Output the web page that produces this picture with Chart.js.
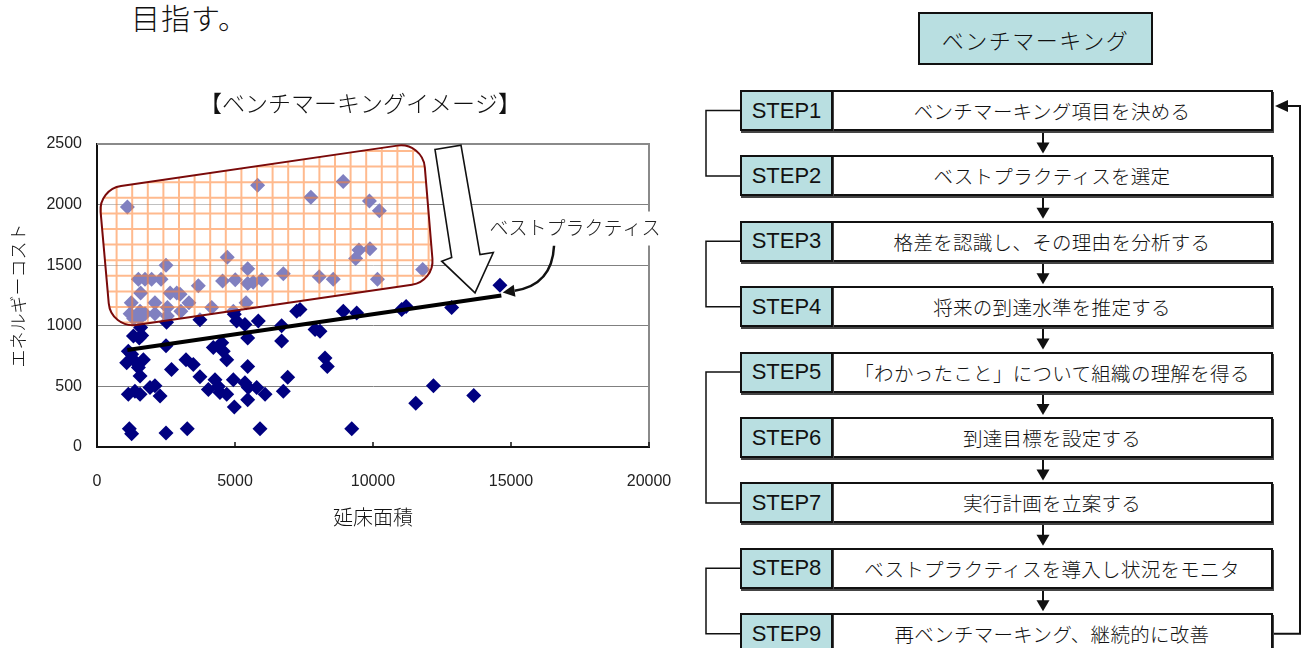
<!DOCTYPE html>
<html lang="ja">
<head>
<meta charset="utf-8">
<script src="https://cdn.jsdelivr.net/npm/chart.js@4.4.1/dist/chart.umd.min.js"></script>
<style>
  html, body { margin: 0; padding: 0; background: #fff; }
  body { width: 1304px; height: 648px; position: relative; overflow: hidden;
         font-family: "Noto Sans CJK JP", "Noto Sans", sans-serif; font-weight: 300; color: #111; }
  #lead { position: absolute; left: 131px; top: -1px; font-size: 29px; line-height: 36px; font-weight: 300; letter-spacing: 1px; }
  #chartBox { position: absolute; left: 0; top: 80px; width: 720px; height: 470px; }
  #flowLines { position: absolute; left: 0; top: 0; }
  .fbox { position: absolute; box-sizing: border-box; border: 2px solid #111;
          display: flex; align-items: center; justify-content: center; white-space: nowrap; }
  .head { background: #b9dfe1; font-size: 22px; letter-spacing: 1.5px; }
  .step { background: #b9dfe1; font-family: "Liberation Sans", Arial, sans-serif; font-weight: 400;
          font-size: 22px; box-shadow: 1px 2px 0 #444; }
  .task { background: #fff; font-size: 19.5px; letter-spacing: 0.3px; box-shadow: 1px 2px 0 #444; }
</style>
</head>
<body>
<div id="lead">目指す。</div>
<svg id="flowLines" width="1304" height="648"></svg>
<div id="flow"></div>
<div id="chartBox"><canvas id="bench" width="720" height="470"></canvas></div>

<script>
// ---- scatter data: floor area (m2) vs. energy cost ----
const floorArea = [
  1100, 5820, 7750, 8920, 9870, 10230, 2500, 4720, 9490, 9370, 9890, 10160,
  1500, 1740, 1980, 2320, 1580, 1240, 1200, 1560, 1560, 2100, 2100, 2550,
  2550, 2650, 2890, 3010, 3330, 3040, 3670, 4155, 4550, 5010, 5460, 5460,
  5660, 5970, 5400, 4940, 6750, 8050, 8560, 11800, 1740, 1330,
  1320, 1530, 1620, 1580, 1135, 1255, 1075, 1320, 1680, 1500, 1560, 2500,
  2700, 3225, 3490, 3730, 4215, 4520, 4575, 4700, 4940, 5460, 4975, 5060,
  5360, 5845, 5460, 6690, 6690, 7235, 7355, 7900, 8080, 8260, 8345, 8925,
  9410, 1135, 1375, 1560, 1920, 2100, 2285, 4035, 4275, 4395, 4455, 4700,
  4975, 5360, 5480, 5785, 6090, 5460, 6750, 6910, 1170, 1255, 2500, 3270,
  5905, 9230, 3730, 2520, 14600, 11040, 11200, 12850, 11550, 12190, 13650
];
const energyCost = [
  1980, 2160, 2060, 2190, 2030, 1950, 1500, 1565, 1625, 1555, 1635, 1385,
  1385, 1385, 1385, 1385, 1270, 1190, 1100, 1120, 1065, 1190, 1100, 1150,
  1080, 1270, 1270, 1260, 1190, 1120, 1330, 1150, 1370, 1380, 1470, 1350,
  1360, 1380, 1190, 1120, 1430, 1405, 1385, 1465, 1100, 1060,
  915, 900, 920, 985, 790, 765, 695, 720, 720, 655, 585, 835,
  640, 720, 680, 580, 820, 860, 790, 720, 555, 665, 1095, 1040,
  1010, 1040, 900, 1000, 875, 1120, 1135, 970, 955, 735, 665, 1120,
  1105, 435, 460, 435, 490, 505, 420, 475, 555, 500, 450, 435,
  330, 530, 490, 490, 435, 390, 460, 575, 150, 110, 115, 150,
  150, 150, 1050, 1030, 1335, 1135, 1160, 1150, 360, 505, 425
];

// best-practice line (lower envelope)
const bestLineArea = [1100, 14650];
const bestLineCost = [800, 1250];

// axis ticks
const xTickValues = [0, 5000, 10000, 15000, 20000];
const yTickValues = [0, 500, 1000, 1500, 2000, 2500];

// annotation geometry, in data units
const topRangeCorners = [[58, 2126], [11801, 2517], [12221, 1366], [507, 977]];
const bigArrowOutline = [[12246, 2455], [13188, 2490], [13877, 1588], [14359, 1605],
                         [13696, 1272], [12489, 1533], [12851, 1564]];
const calloutText = 'ベストプラクティス';
const calloutAnchor = [17320, 1811];
const calloutCurve = { from: [16560, 1660], ctrl: [16490, 1335], to: [14700, 1275] };

// ---- flow chart content ----
const stepNames = ['STEP1', 'STEP2', 'STEP3', 'STEP4', 'STEP5', 'STEP6', 'STEP7', 'STEP8', 'STEP9'];
const stepTasks = [
  'ベンチマーキング項目を決める',
  'ベストプラクティスを選定',
  '格差を認識し、その理由を分析する',
  '将来の到達水準を推定する',
  '「わかったこと」について組織の理解を得る',
  '到達目標を設定する',
  '実行計画を立案する',
  'ベストプラクティスを導入し状況をモニタ',
  '再ベンチマーキング、継続的に改善'
];
const stepGroups = [[0, 1], [2, 3], [4, 6], [7, 8]];
const flowTitle = 'ベンチマーキング';

// ---------------- flow chart drawing ----------------
(function drawFlow() {
  const flow = document.getElementById('flow');
  const svg = document.getElementById('flowLines');
  const rowTop = i => 90 + i * 65.4;
  const rowH = 41, labL = 740, labR = 831, mainR = 1273, arrowX = 1043;

  const head = document.createElement('div');
  head.className = 'fbox head';
  Object.assign(head.style, { left: '918px', top: '12px', width: '235px', height: '53px' });
  head.textContent = flowTitle;
  flow.appendChild(head);

  let s = '';
  stepNames.forEach((name, i) => {
    const t = rowTop(i);
    const lab = document.createElement('div');
    lab.className = 'fbox step';
    Object.assign(lab.style, { left: labL + 'px', top: t + 'px', width: (labR - labL + 2) + 'px', height: rowH + 'px' });
    lab.textContent = name;
    const task = document.createElement('div');
    task.className = 'fbox task';
    Object.assign(task.style, { left: labR + 'px', top: t + 'px', width: (mainR - labR) + 'px', height: rowH + 'px' });
    task.textContent = stepTasks[i];
    flow.appendChild(task);
    flow.appendChild(lab);
    if (i < stepNames.length - 1) {
      const nt = rowTop(i + 1);
      s += `<line x1="${arrowX}" y1="${t + rowH}" x2="${arrowX}" y2="${nt - 10}" stroke="#111" stroke-width="2"/>`;
      s += `<polygon points="${arrowX - 6.5},${nt - 13} ${arrowX + 6.5},${nt - 13} ${arrowX},${nt - 2}" fill="#111"/>`;
    }
  });
  stepGroups.forEach(([a, b]) => {
    const ya = rowTop(a) + rowH / 2, yb = rowTop(b) + rowH / 2;
    s += `<path d="M${labL} ${ya} H706 V${yb} H${labL}" fill="none" stroke="#111" stroke-width="1.5"/>`;
  });
  const y9 = rowTop(8) + rowH / 2;
  s += `<path d="M${mainR + 1} ${y9} H1300 V106 H1287" fill="none" stroke="#111" stroke-width="2"/>`;
  s += `<polygon points="1275,106 1288,100 1288,112" fill="#111"/>`;
  svg.innerHTML = s;
})();

// ---------------- scatter chart ----------------
const jpFont = '"Noto Sans CJK JP", "Noto Sans", sans-serif';
const numFont = '"Liberation Sans Narrow", "Liberation Sans", Arial, sans-serif';

const overlayPlugin = {
  id: 'benchOverlay',
  beforeDatasetsDraw(chart) {
    const { ctx, chartArea: a } = chart;
    ctx.save();
    // top and right frame of the plot area
    ctx.strokeStyle = '#8a8a8a';
    ctx.lineWidth = 2;
    ctx.beginPath();
    ctx.moveTo(a.left, a.top); ctx.lineTo(a.right, a.top); ctx.lineTo(a.right, a.bottom);
    ctx.stroke();
    // inner tick marks on the x axis
    const xs = chart.scales.x;
    ctx.strokeStyle = '#111';
    ctx.lineWidth = 1.5;
    xTickValues.forEach(v => {
      const px = xs.getPixelForValue(v);
      ctx.beginPath(); ctx.moveTo(px, a.bottom); ctx.lineTo(px, a.bottom - 5); ctx.stroke();
    });
    ctx.restore();
  },
  afterDatasetsDraw(chart) {
    const { ctx, chartArea: a } = chart;
    const xs = chart.scales.x, ys = chart.scales.y;
    const P = ([x, y]) => [xs.getPixelForValue(x), ys.getPixelForValue(y)];

    // rounded, tilted region of the poorer buildings
    const c = topRangeCorners.map(P);
    const r = 24;
    const roundPath = () => {
      ctx.beginPath();
      const m0 = [(c[3][0] + c[0][0]) / 2, (c[3][1] + c[0][1]) / 2];
      ctx.moveTo(m0[0], m0[1]);
      for (let i = 0; i < 4; i++) {
        const p = c[i], n = c[(i + 1) % 4];
        ctx.arcTo(p[0], p[1], n[0], n[1], r);
      }
      ctx.closePath();
    };
    ctx.save();
    roundPath();
    ctx.fillStyle = 'rgba(255,255,255,0.5)';
    ctx.fill();
    ctx.clip();
    const step = 15.6;
    const minX = Math.min(...c.map(p => p[0])) - step, maxX = Math.max(...c.map(p => p[0])) + step;
    const minY = Math.min(...c.map(p => p[1])) - step, maxY = Math.max(...c.map(p => p[1])) + step;
    ctx.strokeStyle = 'rgba(255,130,50,0.55)';
    ctx.lineWidth = 2;
    ctx.beginPath();
    for (let x = a.left + 4 - step * 2; x <= maxX; x += step) {
      if (x < minX) continue;
      ctx.moveTo(x, minY); ctx.lineTo(x, maxY);
    }
    for (let y = a.top + 7 - step * 2; y <= maxY; y += step) {
      if (y < minY) continue;
      ctx.moveTo(minX, y); ctx.lineTo(maxX, y);
    }
    ctx.stroke();
    ctx.restore();
    ctx.save();
    roundPath();
    ctx.strokeStyle = '#7a0a0a';
    ctx.lineWidth = 2;
    ctx.stroke();
    ctx.restore();

    // hollow downward arrow
    ctx.save();
    ctx.beginPath();
    bigArrowOutline.map(P).forEach(([x, y], i) => i ? ctx.lineTo(x, y) : ctx.moveTo(x, y));
    ctx.closePath();
    ctx.fillStyle = '#fff';
    ctx.fill();
    ctx.strokeStyle = '#111';
    ctx.lineWidth = 1.6;
    ctx.lineJoin = 'miter';
    ctx.stroke();
    ctx.restore();

    // callout label
    ctx.save();
    ctx.font = '300 19px ' + jpFont;
    const [lx, ly] = P(calloutAnchor);
    const w = ctx.measureText(calloutText).width;
    ctx.fillStyle = '#fff';
    ctx.fillRect(lx - w / 2 - 4, ly - 16, w + 8, 34);
    ctx.fillStyle = '#222';
    ctx.textAlign = 'center';
    ctx.textBaseline = 'middle';
    ctx.fillText(calloutText, lx, ly);

    // curved pointer to the best-practice line
    const f = P(calloutCurve.from), q = P(calloutCurve.ctrl), t = P(calloutCurve.to);
    const dx = t[0] - q[0], dy = t[1] - q[1], len = Math.hypot(dx, dy);
    const ux = dx / len, uy = dy / len;
    const base = [t[0] - ux * 12, t[1] - uy * 12];
    ctx.strokeStyle = '#111';
    ctx.lineWidth = 2.5;
    ctx.beginPath();
    ctx.moveTo(f[0], f[1]);
    ctx.quadraticCurveTo(q[0], q[1], base[0], base[1]);
    ctx.stroke();
    ctx.beginPath();
    ctx.moveTo(t[0], t[1]);
    ctx.lineTo(base[0] - uy * 6, base[1] + ux * 6);
    ctx.lineTo(base[0] + uy * 6, base[1] - ux * 6);
    ctx.closePath();
    ctx.fillStyle = '#111';
    ctx.fill();
    ctx.restore();
  }
};

const plainNumber = v => String(v);

new Chart(document.getElementById('bench'), {
  type: 'scatter',
  data: {
    datasets: [
      {
        label: 'ベストプラクティス',
        data: bestLineArea.map((x, i) => ({ x, y: bestLineCost[i] })),
        showLine: true,
        borderColor: '#000',
        borderWidth: 4,
        pointRadius: 0,
        order: 0
      },
      {
        label: '建物',
        data: floorArea.map((x, i) => ({ x, y: energyCost[i] })),
        pointStyle: 'rectRot',
        pointRadius: 7.5,
        backgroundColor: '#000080',
        borderColor: '#000080',
        borderWidth: 0,
        order: 1
      }
    ]
  },
  options: {
    responsive: false,
    animation: false,
    devicePixelRatio: 1,
    layout: { padding: 0 },
    plugins: {
      legend: { display: false },
      tooltip: { enabled: false },
      title: {
        display: true,
        text: '【ベンチマーキングイメージ】',
        color: '#111',
        font: { family: jpFont, size: 23, weight: 300 },
        padding: { top: 9, bottom: 27.4 }
      }
    },
    scales: {
      x: {
        type: 'linear', min: 0, max: 20000,
        afterBuildTicks: s => { s.ticks = xTickValues.map(v => ({ value: v })); },
        afterFit: s => { s.height = 103; },
        grid: { display: false, drawTicks: false },
        border: { display: true, color: '#111', width: 2 },
        ticks: { padding: 25, color: '#222', font: { family: numFont, size: 16 }, callback: plainNumber },
        title: { display: true, text: '延床面積', color: '#111',
                 font: { family: jpFont, size: 20, weight: 300 }, padding: { top: 0, bottom: 21 } }
      },
      y: {
        type: 'linear', min: 0, max: 2500,
        afterBuildTicks: s => { s.ticks = yTickValues.map(v => ({ value: v })); },
        afterFit: s => { s.width = 97; },
        grid: { color: '#808080', lineWidth: 1, drawTicks: false },
        border: { display: true, color: '#111', width: 2 },
        ticks: { padding: 15, color: '#222', font: { family: numFont, size: 16 }, callback: plainNumber },
        title: { display: true, text: 'エネルギーコスト', color: '#111',
                 font: { family: jpFont, size: 18, weight: 300 }, padding: { top: 7, bottom: 0 } }
      },
      // empty right-hand strip that holds the callout label
      gutter: {
        type: 'linear', position: 'right', display: true, min: 0, max: 1,
        afterFit: s => { s.width = 71; },
        grid: { display: false, drawTicks: false },
        border: { display: false },
        ticks: { display: false }
      }
    }
  },
  plugins: [overlayPlugin]
});
</script>
</body>
</html>
